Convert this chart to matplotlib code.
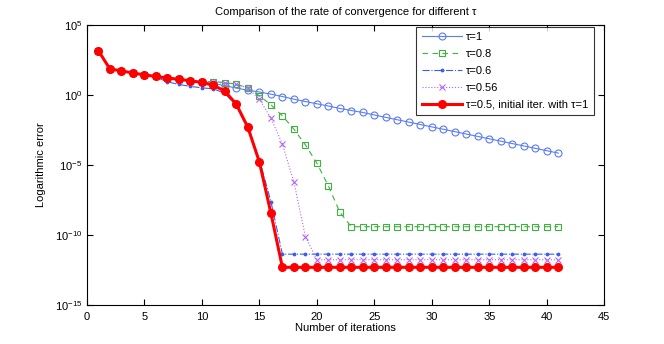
import numpy as np
import matplotlib
matplotlib.use('Agg')
import matplotlib.pyplot as plt
from matplotlib.ticker import NullLocator

plt.rcParams['font.family'] = ['Liberation Sans', 'DejaVu Sans']
plt.rcParams['mathtext.fontset'] = 'custom'
plt.rcParams['mathtext.rm'] = 'Liberation Sans'

# iteration number
iters = np.arange(1, 42)

# log10 of the error
tau1 = [3.16, 1.86, 1.74, 1.57, 1.45, 1.33, 1.22, 1.13, 1.02, 0.92,
        0.82, 0.68, 0.5, 0.35, 0.22, 0.07, -0.1, -0.29, -0.46, -0.62,
        -0.78, -0.95, -1.1, -1.24, -1.42, -1.59, -1.76, -1.93, -2.1, -2.27,
        -2.44, -2.61, -2.78, -2.95, -3.12, -3.29, -3.46, -3.63, -3.8, -3.97,
        -4.14]
tau08 = [3.16, 1.86, 1.74, 1.57, 1.45, 1.33, 1.22, 1.13, 1.02, 0.95,
         0.97, 0.9, 0.78, 0.5, -0.05, -0.69, -1.48, -2.43, -3.55, -4.86,
         -6.48, -8.37, -9.4, -9.4, -9.4, -9.4, -9.4, -9.4, -9.4, -9.4,
         -9.4, -9.4, -9.4, -9.4, -9.4, -9.4, -9.4, -9.4, -9.4, -9.4,
         -9.4]
tau06 = [3.16, 1.86, 1.72, 1.55, 1.42, 1.28, 0.95, 0.76, 0.62, 0.52,
         0.45, 0.12, -0.8, -2.4, -4.6, -7.6, -11.36, -11.36, -11.36, -11.36,
         -11.36, -11.36, -11.36, -11.36, -11.36, -11.36, -11.36, -11.36, -11.36, -11.36,
         -11.36, -11.36, -11.36, -11.36, -11.36, -11.36, -11.36, -11.36, -11.36, -11.36,
         -11.36]
tau056 = [3.16, 1.86, 1.74, 1.57, 1.45, 1.33, 1.22, 1.1, 1.0, 0.92,
          0.92, 0.85, 0.79, 0.5, -0.29, -1.64, -3.5, -6.2, -10.1, -11.76,
          -11.76, -11.76, -11.76, -11.76, -11.76, -11.76, -11.76, -11.76, -11.76, -11.76,
          -11.76, -11.76, -11.76, -11.76, -11.76, -11.76, -11.76, -11.76, -11.76, -11.76,
          -11.76]
tau05 = [3.16, 1.86, 1.74, 1.57, 1.45, 1.33, 1.22, 1.13, 1.02, 0.91,
         0.7, 0.28, -0.66, -2.31, -4.78, -8.43, -12.3, -12.3, -12.3, -12.3,
         -12.3, -12.3, -12.3, -12.3, -12.3, -12.3, -12.3, -12.3, -12.3, -12.3,
         -12.3, -12.3, -12.3, -12.3, -12.3, -12.3, -12.3, -12.3, -12.3, -12.3,
         -12.3]

labels = ['τ=1', 'τ=0.8', 'τ=0.6', 'τ=0.56', 'τ=0.5, initial iter. with τ=1']

fig = plt.figure(figsize=(6.64, 3.44), dpi=100)
ax = fig.add_axes([0.131, 0.113, 0.779, 0.814])

ax.semilogy(iters, np.power(10.0, tau1), '-o', color='#5b7cf2', lw=0.8,
            ms=5, mfc='none', mew=0.8, label=labels[0])
ax.semilogy(iters, np.power(10.0, tau08), '--s', color='#3db23d', lw=0.8,
            ms=4.3, mfc='none', mew=0.8, dashes=(5, 4), label=labels[1])
ax.semilogy(iters, np.power(10.0, tau06), '-.', color='#3a5ff0', lw=0.8,
            marker='.', ms=3.5, label=labels[2])
ax.semilogy(iters, np.power(10.0, tau056), ':x', color='#b466f2', lw=0.8,
            ms=4, mew=0.8, label=labels[3])
ax.semilogy(iters, np.power(10.0, tau05), '-o', color='#ff0000', lw=2.2,
            ms=5.5, label=labels[4])

ax.set_xlim(0, 45)
ax.set_ylim(1e-15, 1e5)
ax.set_xticks(range(0, 46, 5))
ax.set_yticks([1e-15, 1e-10, 1e-5, 1e0, 1e5])
ax.yaxis.set_minor_locator(NullLocator())
ax.tick_params(direction='in', top=True, right=True, labelsize=8, length=4)
ax.tick_params(axis='x', pad=5)

ax.set_title('Comparison of the rate of convergence for different τ', fontsize=8, pad=7)
ax.set_xlabel('Number of iterations', fontsize=8, labelpad=1)
ax.set_ylabel('Logarithmic error', fontsize=8, labelpad=6)

leg = ax.legend(loc='upper right', bbox_to_anchor=(0.98, 0.995), fontsize=8,
                handlelength=3.6, fancybox=False, edgecolor='black',
                borderaxespad=0, labelspacing=0.62, handletextpad=0.4,
                borderpad=0.5)
leg.get_frame().set_linewidth(0.8)

fig.savefig('out.png', dpi=100)
